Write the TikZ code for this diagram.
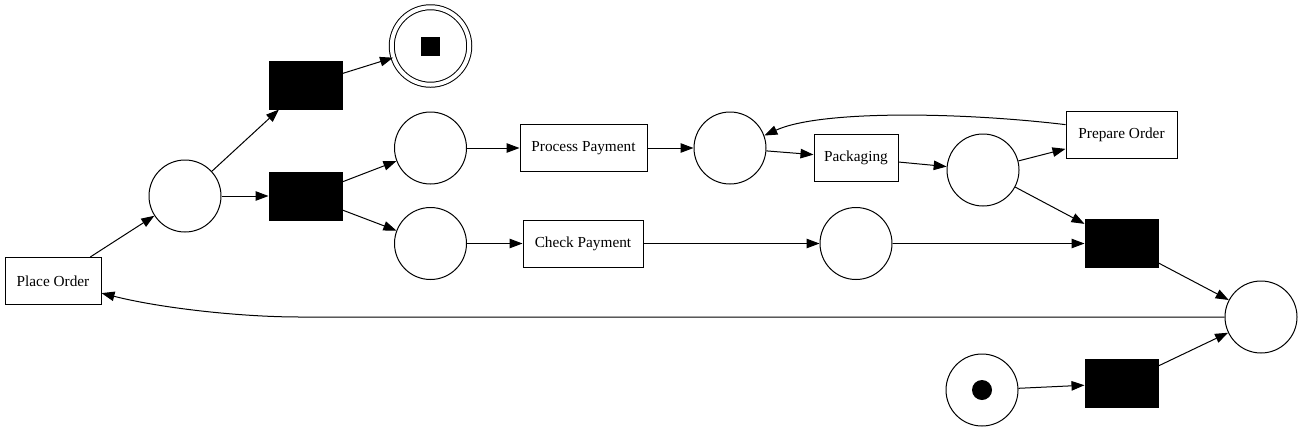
\documentclass[tikz,border=0pt]{standalone}
\usepackage{fontspec}
\setmainfont{Liberation Serif}
\usetikzlibrary{arrows.meta}

\begin{document}
\begin{tikzpicture}[x=1pt,y=-1pt,font=\fontsize{15.3}{18}\selectfont,line width=1pt,
    >={Triangle[length=13pt,width=9.5pt]},
    place/.style={draw,circle,minimum size=72pt,inner sep=0pt},
    trans/.style={draw,fill=black,minimum width=73pt,minimum height=48pt,inner sep=0pt},
    task/.style={draw,minimum height=47pt,inner sep=0pt}]
\useasboundingbox (0,0) rectangle (1303,432);

% 라벨 전이
\node[task,minimum width=96pt] (po) at (53,281) {Place Order};
\node[task,minimum width=127pt] (pp) at (583.5,148) {Process Payment};
\node[task,minimum width=120pt] (cp) at (583,243.5) {Check Payment};
\node[task,minimum width=84pt] (pk) at (856,158) {Packaging};
\node[task,minimum width=111pt] (pr) at (1121.5,134.5) {Prepare Order};

% 침묵 전이
\node[trans] (t1) at (305.5,85) {};
\node[trans] (t2) at (305.5,196) {};
\node[trans] (t3) at (1121.5,243.5) {};
\node[trans] (t4) at (1121.5,383.5) {};

% 플레이스
\node[place] (p1) at (185,196) {};
\node[place] (p2) at (430.5,148) {};
\node[place] (p3) at (430.5,243.5) {};
\node[place] (p4) at (730,148) {};
\node[place] (p5) at (983,170) {};
\node[place] (p6) at (856,243.5) {};
\node[place] (p7) at (1261,317) {};
\node[place] (ps) at (982,390) {};
\node[circle,fill=black,minimum size=20pt,inner sep=0pt] (pstok) at (ps) {};

% 종료 플레이스
\node[place,minimum size=77.5pt,double,double distance=4pt] (pe) at (430.5,46) {};
\node[fill=black,minimum size=19pt,inner sep=0pt] (petok) at (pe) {};

% 아크
\draw[->] (po) -- (p1);
\draw[->] (p1) -- (t1);
\draw[->] (p1) -- (t2);
\draw[->] (t1) -- (pe);
\draw[->] (t2) -- (p2);
\draw[->] (t2) -- (p3);
\draw[->] (p2) -- (pp);
\draw[->] (pp) -- (p4);
\draw[->] (p4) -- (pk);
\draw[->] (pk) -- (p5);
\draw[->] (p5) -- (pr);
\draw[->] (pr.170) .. controls (960,112) and (820,110) .. (p4.20);
\draw[->] (p5) -- (t3);
\draw[->] (p3) -- (cp);
\draw[->] (cp) -- (p6);
\draw[->] (p6) -- (t3);
\draw[->] (t3) -- (p7);
\draw[->] (ps) -- (t4);
\draw[->] (t4) -- (p7);
\draw[->] (p7.west) -- (300,317) .. controls (240,317) and (160,308) .. (po.-14);

\end{tikzpicture}
\end{document}
